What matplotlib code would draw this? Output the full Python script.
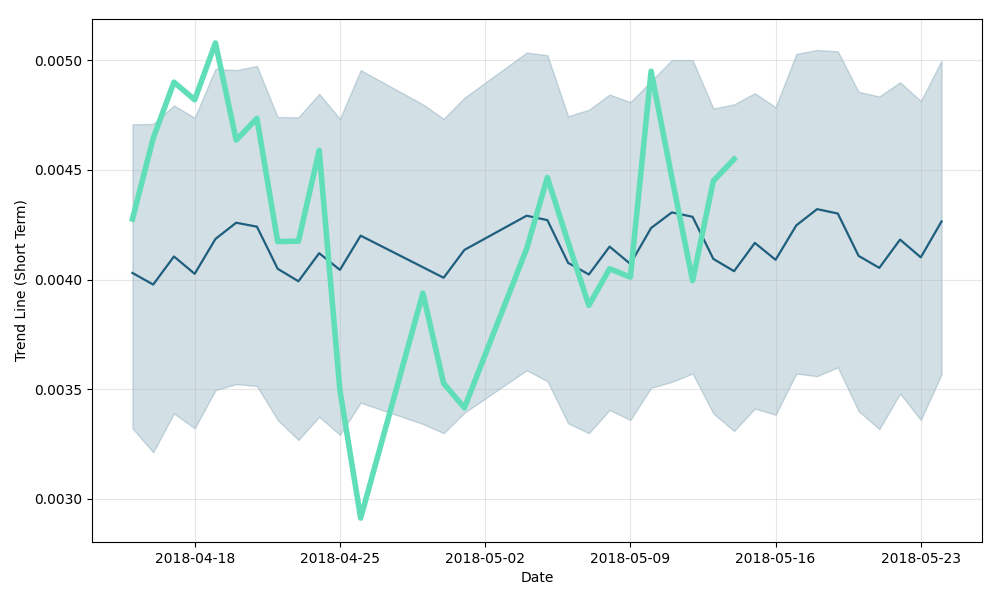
import numpy as np
import pandas as pd
import matplotlib
matplotlib.use("Agg")
import matplotlib.pyplot as plt
import matplotlib.dates as mdates

# Dates present in the data (gaps on 04-27/28 and 05-02/03)
dates = pd.to_datetime([
    "2018-04-15", "2018-04-16", "2018-04-17", "2018-04-18", "2018-04-19",
    "2018-04-20", "2018-04-21", "2018-04-22", "2018-04-23", "2018-04-24",
    "2018-04-25", "2018-04-26", "2018-04-29", "2018-04-30", "2018-05-01",
    "2018-05-04", "2018-05-05", "2018-05-06", "2018-05-07", "2018-05-08",
    "2018-05-09", "2018-05-10", "2018-05-11", "2018-05-12", "2018-05-13",
    "2018-05-14", "2018-05-15", "2018-05-16", "2018-05-17", "2018-05-18",
    "2018-05-19", "2018-05-20", "2018-05-21", "2018-05-22", "2018-05-23",
    "2018-05-24",
])

# short-term trend (mean) line
trend = [
    0.004030, 0.003977, 0.004105, 0.004026, 0.004185, 0.004259, 0.004241,
    0.004049, 0.003992, 0.004120, 0.004044, 0.004200, 0.004056, 0.004008,
    0.004135, 0.004291, 0.004271, 0.004076, 0.004023, 0.004150, 0.004071,
    0.004235, 0.004306, 0.004286, 0.004094, 0.004038, 0.004167, 0.004090,
    0.004247, 0.004321, 0.004301, 0.004108, 0.004053, 0.004182, 0.004101,
    0.004265,
]

upper = [
    0.004708, 0.004710, 0.004794, 0.004738, 0.004961, 0.004955, 0.004974,
    0.004741, 0.004740, 0.004847, 0.004733, 0.004955, 0.004799, 0.004733,
    0.004829, 0.005035, 0.005023, 0.004745, 0.004774, 0.004844, 0.004809,
    0.004905, 0.005001, 0.005001, 0.004780, 0.004799, 0.004850, 0.004786,
    0.005029, 0.005047, 0.005041, 0.004856, 0.004835, 0.004900, 0.004814,
    0.004999,
]

lower = [
    0.003321, 0.003212, 0.003389, 0.003321, 0.003495, 0.003523, 0.003514,
    0.003359, 0.003268, 0.003374, 0.003291, 0.003438, 0.003341, 0.003299,
    0.003392, 0.003586, 0.003536, 0.003344, 0.003299, 0.003405, 0.003359,
    0.003506, 0.003533, 0.003571, 0.003389, 0.003309, 0.003411, 0.003383,
    0.003571, 0.003559, 0.003599, 0.003400, 0.003317, 0.003480, 0.003359,
    0.003567,
]

# actual values only run up to 2018-05-14
actual = [
    0.004276, 0.004644, 0.004900, 0.004820, 0.005079, 0.004636, 0.004735,
    0.004173, 0.004175, 0.004589, 0.003495, 0.002912, 0.003938, 0.003526,
    0.003415, 0.004140, 0.004465, 0.004170, 0.003882, 0.004049, 0.004011,
    0.004950, 0.004465, 0.003995, 0.004450, 0.004549,
]

DARK = "#1f5f7e"
GREEN = "#60deb8"

fig, ax = plt.subplots(figsize=(10, 6), dpi=100)

ax.fill_between(dates, lower, upper, color=DARK, alpha=0.2)
ax.plot(dates, trend, color=DARK, linewidth=1.6)
ax.plot(dates[:len(actual)], actual, color=GREEN, linewidth=4)

ax.grid(True, alpha=0.3)
ax.xaxis.set_major_locator(mdates.WeekdayLocator(byweekday=mdates.WE))
ax.xaxis.set_major_formatter(mdates.DateFormatter("%Y-%m-%d"))
ax.set_xlabel("Date")
ax.set_ylabel("Trend Line (Short Term)")

fig.subplots_adjust(left=0.092, right=0.982, top=0.968, bottom=0.097)
plt.savefig("out.png", dpi=100)
plt.close()
